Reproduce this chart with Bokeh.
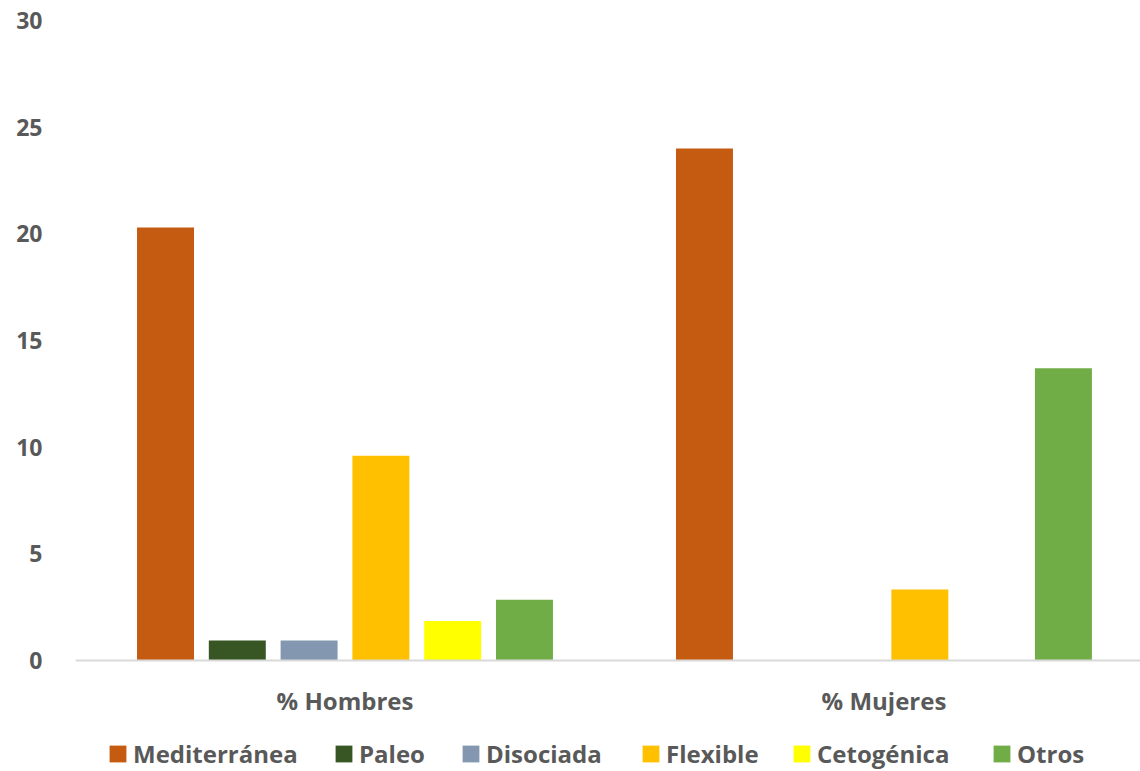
from bokeh.plotting import figure
from bokeh.models import ColumnDataSource, Range1d, Legend, LegendItem, FixedTicker, Span
from bokeh.core.properties import value
from bokeh.transform import dodge
from bokeh.embed import file_html
from bokeh.resources import INLINE

# Diet preference (%) by sex
groups = ["% Hombres", "% Mujeres"]
diets = ["Mediterránea", "Paleo", "Disociada", "Flexible", "Cetogénica", "Otros"]
mediterranea = [20.3, 24.0]
paleo = [0.94, 0.0]
disociada = [0.94, 0.0]
flexible = [9.6, 3.33]
cetogenica = [1.85, 0.0]
otros = [2.85, 13.7]
colors = ["#C55A11", "#375623", "#8497B0", "#FFC000", "#FFFF00", "#70AD47"]
y_ticks = [0, 5, 10, 15, 20, 25, 30]

FONT = "Open Sans"
TEXT = "#595959"

src = ColumnDataSource(dict(
    x=[0.5, 1.5],
    Mediterránea=mediterranea,
    Paleo=paleo,
    Disociada=disociada,
    Flexible=flexible,
    Cetogénica=cetogenica,
    Otros=otros,
))

# the frame reaches the bottom edge so the category row and legend sit inside it
p = figure(width=1140, height=771, output_backend="svg", toolbar_location=None,
           x_range=Range1d(0, 1.976), y_range=Range1d(-5.203, 30))
p.min_border_left = 75
p.min_border_right = 0
p.min_border_top = 20
p.min_border_bottom = 0
p.outline_line_color = None
p.background_fill_color = "white"
p.border_fill_color = "white"
p.xgrid.visible = False
p.ygrid.visible = False
p.xaxis.visible = False

step = 0.1332
bar_w = 0.1057
renderers = []
for i, (d, c) in enumerate(zip(diets, colors)):
    r = p.vbar(x=dodge("x", (i - 2.5) * step), top=d, width=bar_w, bottom=0,
               source=src, fill_color=c, line_color=None)
    renderers.append(r)

# category baseline
p.add_layout(Span(location=0, dimension="width", line_color="#D9D9D9", line_width=2))

# category names under each group
p.text(x=[0.5, 1.5], y=[0, 0], text=groups, y_offset=40,
       text_align="center", text_baseline="middle",
       text_font=value(FONT), text_font_style="bold",
       text_font_size="24px", text_color=TEXT)

# y axis: labels only
p.yaxis.ticker = FixedTicker(ticks=y_ticks)
p.yaxis.axis_line_color = None
p.yaxis.major_tick_line_color = None
p.yaxis.minor_tick_line_color = None
p.yaxis.major_tick_out = 0
p.yaxis.major_label_standoff = 33
p.yaxis.major_label_text_font = FONT
p.yaxis.major_label_text_font_style = "bold"
p.yaxis.major_label_text_font_size = "23px"
p.yaxis.major_label_text_color = TEXT

# one legend entry per diet along the bottom row
legend_x = [32, 258, 385, 565, 716, 916]
for d, r, lx in zip(diets, renderers, legend_x):
    lg = Legend(items=[LegendItem(label=d, renderers=[r])], orientation="horizontal",
                location=(lx, 1), padding=0, margin=0, label_standoff=5,
                glyph_width=21, glyph_height=21,
                label_text_font=FONT, label_text_font_style="bold",
                label_text_font_size="24px", label_text_color=TEXT,
                border_line_color=None, background_fill_alpha=0)
    p.add_layout(lg, "center")

open("out.html", "w").write(file_html(p, INLINE))
